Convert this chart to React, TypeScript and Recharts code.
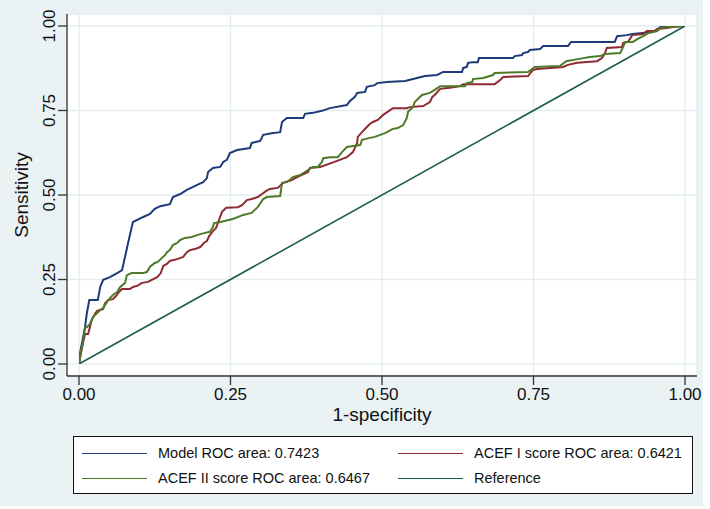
import React from 'react';
import { LineChart, Line, XAxis, YAxis, CartesianGrid, Legend } from 'recharts';

const FONT = '"Liberation Sans", Arial, Helvetica, sans-serif';

const TICKS = [0, 0.25, 0.5, 0.75, 1];

// ROC points: [1-specificity, sensitivity]
const modelRoc = [
  [0, 0], [0.002, 0.036], [0.01, 0.109], [0.013, 0.151], [0.017, 0.189], [0.031, 0.189],
  [0.035, 0.228], [0.04, 0.249], [0.051, 0.257], [0.063, 0.269], [0.071, 0.278], [0.076, 0.317],
  [0.081, 0.358], [0.087, 0.405], [0.089, 0.42], [0.106, 0.435], [0.117, 0.444], [0.125, 0.459],
  [0.134, 0.467], [0.15, 0.473], [0.155, 0.494], [0.167, 0.503], [0.178, 0.515], [0.195, 0.53],
  [0.205, 0.538], [0.211, 0.55], [0.213, 0.568], [0.221, 0.58], [0.233, 0.583], [0.238, 0.598],
  [0.244, 0.604], [0.249, 0.624], [0.261, 0.633], [0.282, 0.639], [0.285, 0.654], [0.299, 0.66],
  [0.304, 0.678], [0.318, 0.683], [0.332, 0.686], [0.335, 0.716], [0.343, 0.728], [0.37, 0.728],
  [0.373, 0.74], [0.386, 0.743], [0.401, 0.749], [0.414, 0.757], [0.442, 0.766], [0.447, 0.778],
  [0.455, 0.79], [0.459, 0.802], [0.472, 0.805], [0.475, 0.82], [0.488, 0.825], [0.492, 0.831],
  [0.508, 0.834], [0.538, 0.837], [0.558, 0.846], [0.571, 0.852], [0.591, 0.855], [0.601, 0.864],
  [0.632, 0.864], [0.634, 0.876], [0.64, 0.879], [0.642, 0.891], [0.649, 0.893], [0.658, 0.893],
  [0.66, 0.905], [0.716, 0.905], [0.719, 0.911], [0.731, 0.914], [0.733, 0.92], [0.741, 0.923],
  [0.744, 0.929], [0.761, 0.932], [0.766, 0.941], [0.807, 0.941], [0.812, 0.953], [0.884, 0.953],
  [0.888, 0.97], [0.904, 0.973], [0.913, 0.976], [0.947, 0.982], [0.962, 1], [1, 1],
];

const acef1Roc = [
  [0, 0], [0.003, 0.03], [0.007, 0.065], [0.01, 0.089], [0.015, 0.089], [0.018, 0.109],
  [0.021, 0.13], [0.026, 0.148], [0.03, 0.157], [0.04, 0.163], [0.043, 0.18], [0.048, 0.189],
  [0.056, 0.192], [0.061, 0.201], [0.066, 0.213], [0.071, 0.222], [0.084, 0.222], [0.089, 0.228],
  [0.096, 0.231], [0.104, 0.24], [0.114, 0.243], [0.12, 0.249], [0.129, 0.257], [0.135, 0.269],
  [0.139, 0.29], [0.145, 0.296], [0.15, 0.305], [0.163, 0.311], [0.172, 0.317], [0.178, 0.331],
  [0.183, 0.337], [0.191, 0.34], [0.2, 0.346], [0.206, 0.358], [0.211, 0.364], [0.215, 0.379],
  [0.221, 0.393], [0.226, 0.402], [0.231, 0.426], [0.236, 0.45], [0.243, 0.462], [0.262, 0.464],
  [0.269, 0.47], [0.277, 0.485], [0.285, 0.488], [0.295, 0.494], [0.302, 0.503], [0.309, 0.512],
  [0.315, 0.518], [0.328, 0.521], [0.337, 0.536], [0.351, 0.544], [0.36, 0.553], [0.378, 0.568],
  [0.381, 0.58], [0.398, 0.583], [0.417, 0.595], [0.426, 0.601], [0.442, 0.612], [0.452, 0.627],
  [0.459, 0.654], [0.46, 0.672], [0.467, 0.686], [0.475, 0.701], [0.48, 0.71], [0.485, 0.716],
  [0.493, 0.722], [0.502, 0.737], [0.518, 0.757], [0.541, 0.757], [0.546, 0.76], [0.568, 0.763],
  [0.579, 0.775], [0.583, 0.79], [0.587, 0.796], [0.596, 0.814], [0.612, 0.817], [0.629, 0.822],
  [0.634, 0.828], [0.686, 0.828], [0.695, 0.84], [0.7, 0.849], [0.741, 0.852], [0.749, 0.87],
  [0.756, 0.873], [0.799, 0.879], [0.807, 0.885], [0.822, 0.891], [0.855, 0.896], [0.863, 0.905],
  [0.868, 0.92], [0.871, 0.935], [0.896, 0.938], [0.898, 0.95], [0.906, 0.953], [0.913, 0.973],
  [0.931, 0.976], [0.937, 0.985], [0.95, 0.985], [0.955, 0.991], [0.97, 0.994], [0.98, 0.997], [1, 1],
];

const acef2Roc = [
  [0, 0], [0.003, 0.036], [0.007, 0.071], [0.01, 0.109], [0.013, 0.109], [0.018, 0.118],
  [0.023, 0.139], [0.03, 0.151], [0.035, 0.16], [0.04, 0.166], [0.046, 0.183], [0.051, 0.195],
  [0.056, 0.204], [0.063, 0.213], [0.068, 0.228], [0.076, 0.24], [0.079, 0.263], [0.087, 0.269],
  [0.106, 0.269], [0.112, 0.272], [0.117, 0.287], [0.125, 0.299], [0.13, 0.302], [0.137, 0.314],
  [0.142, 0.322], [0.145, 0.331], [0.15, 0.337], [0.155, 0.352], [0.162, 0.358], [0.167, 0.367],
  [0.175, 0.373], [0.186, 0.376], [0.196, 0.382], [0.208, 0.388], [0.216, 0.391], [0.221, 0.405],
  [0.223, 0.417], [0.233, 0.42], [0.254, 0.429], [0.271, 0.441], [0.285, 0.447], [0.29, 0.456],
  [0.295, 0.464], [0.304, 0.488], [0.31, 0.494], [0.332, 0.497], [0.335, 0.536], [0.343, 0.538],
  [0.353, 0.553], [0.365, 0.559], [0.378, 0.574], [0.386, 0.583], [0.394, 0.583], [0.401, 0.598],
  [0.403, 0.609], [0.414, 0.612], [0.427, 0.612], [0.434, 0.627], [0.442, 0.642], [0.452, 0.645],
  [0.464, 0.648], [0.467, 0.663], [0.48, 0.669], [0.488, 0.672], [0.505, 0.683], [0.517, 0.695],
  [0.526, 0.698], [0.535, 0.707], [0.541, 0.728], [0.543, 0.746], [0.551, 0.76], [0.554, 0.775],
  [0.566, 0.796], [0.579, 0.802], [0.587, 0.811], [0.596, 0.822], [0.637, 0.822], [0.64, 0.831],
  [0.649, 0.834], [0.65, 0.843], [0.667, 0.846], [0.683, 0.855], [0.686, 0.861], [0.741, 0.864],
  [0.752, 0.879], [0.794, 0.882], [0.804, 0.896], [0.823, 0.902], [0.843, 0.908], [0.86, 0.911],
  [0.868, 0.917], [0.893, 0.92], [0.898, 0.938], [0.901, 0.953], [0.914, 0.953], [0.922, 0.962],
  [0.934, 0.973], [0.939, 0.979], [0.954, 0.985], [0.959, 0.994], [0.97, 0.997], [1, 1],
];

const referenceLine = [[0, 0], [1, 1]];

const SERIES = [
  { key: 'model', name: 'Model ROC area: 0.7423', color: '#1f3a78', width: 2, points: modelRoc },
  { key: 'acef1', name: 'ACEF I score ROC area: 0.6421', color: '#8f2a33', width: 2, points: acef1Roc },
  { key: 'acef2', name: 'ACEF II score ROC area: 0.6467', color: '#4e7a27', width: 2, points: acef2Roc },
  { key: 'ref', name: 'Reference', color: '#1b5e4b', width: 1.6, points: referenceLine },
];

const toRows = (pts: number[][]) => pts.map(([x, y]) => ({ x, y }));

const YTick = (props: any) => {
  const { x, y, payload } = props;
  const bx = x - 3;
  return (
    <text
      x={bx}
      y={y}
      transform={`rotate(-90, ${bx}, ${y})`}
      textAnchor="middle"
      fontSize={17}
      fontFamily={FONT}
      fill="#111"
    >
      {payload.value.toFixed(2)}
    </text>
  );
};

const LegendBox = () => (
  <div
    style={{
      width: 620,
      height: 58,
      boxSizing: 'border-box',
      border: '1px solid #111',
      background: '#fff',
      position: 'relative',
      fontFamily: FONT,
      fontSize: 14.5,
      color: '#111',
    }}
  >
    {SERIES.map((s, i) => {
      const col = i % 2;
      const row = Math.floor(i / 2);
      return (
        <div
          key={s.key}
          style={{
            position: 'absolute',
            left: col === 0 ? 8 : 324,
            top: row === 0 ? 6 : 31,
            height: 20,
            display: 'flex',
            alignItems: 'center',
            whiteSpace: 'nowrap',
          }}
        >
          <div style={{ width: 65, height: 0, borderTop: `1.6px solid ${s.color}` }} />
          <span style={{ marginLeft: 11 }}>{s.name}</span>
        </div>
      );
    })}
  </div>
);

export default function App() {
  return (
    <div style={{ position: 'absolute', left: 0, top: 0, width: 710, height: 509, background: '#fff' }}>
      <div style={{ position: 'absolute', left: 0, top: 0, width: 703, height: 506, background: '#eaf2f3' }} />
      <div style={{ position: 'absolute', left: 0, top: 0 }}>
        <LineChart width={710} height={509} margin={{ top: 14, right: 13, left: 0, bottom: 83 }}>
          <CartesianGrid fill="#fff" stroke="#e2ecee" strokeWidth={1.3} />
          <XAxis
            type="number"
            dataKey="x"
            domain={[0, 1]}
            ticks={TICKS}
            padding={{ left: 12, right: 12 }}
            allowDataOverflow
            height={50}
            tickSize={9}
            tickMargin={3}
            stroke="#333"
            strokeWidth={1.3}
            tickFormatter={(v: number) => v.toFixed(2)}
            tick={{ fill: '#111', fontSize: 17, fontFamily: FONT }}
            label={{
              content: (p: any) => {
                const vb = p.viewBox;
                return (
                  <text x={vb.x + vb.width / 2} y={vb.y + 45} textAnchor="middle" fontSize={19} fontFamily={FONT} fill="#111">
                    1-specificity
                  </text>
                );
              },
            }}
          />
          <YAxis
            type="number"
            dataKey="y"
            domain={[0, 1]}
            ticks={TICKS}
            padding={{ top: 12, bottom: 12 }}
            allowDataOverflow
            width={67}
            tickSize={9}
            tickMargin={0}
            stroke="#333"
            strokeWidth={1.3}
            tick={<YTick />}
            label={{
              content: (p: any) => {
                const vb = p.viewBox;
                const cy = vb.y + vb.height / 2;
                return (
                  <text x={28} y={cy} transform={`rotate(-90, 28, ${cy})`} textAnchor="middle" fontSize={19} fontFamily={FONT} fill="#111">
                    Sensitivity
                  </text>
                );
              },
            }}
          />
          {SERIES.map((s) => (
            <Line
              key={s.key}
              data={toRows(s.points)}
              dataKey="y"
              name={s.name}
              type="linear"
              stroke={s.color}
              strokeWidth={s.width}
              dot={false}
              activeDot={false}
              isAnimationActive={false}
            />
          ))}
          <Legend
            layout="horizontal"
            verticalAlign="middle"
            align="center"
            content={() => <LegendBox />}
            wrapperStyle={{ position: 'absolute', left: 73, top: 436, width: 620, height: 58 }}
          />
        </LineChart>
      </div>
    </div>
  );
}
